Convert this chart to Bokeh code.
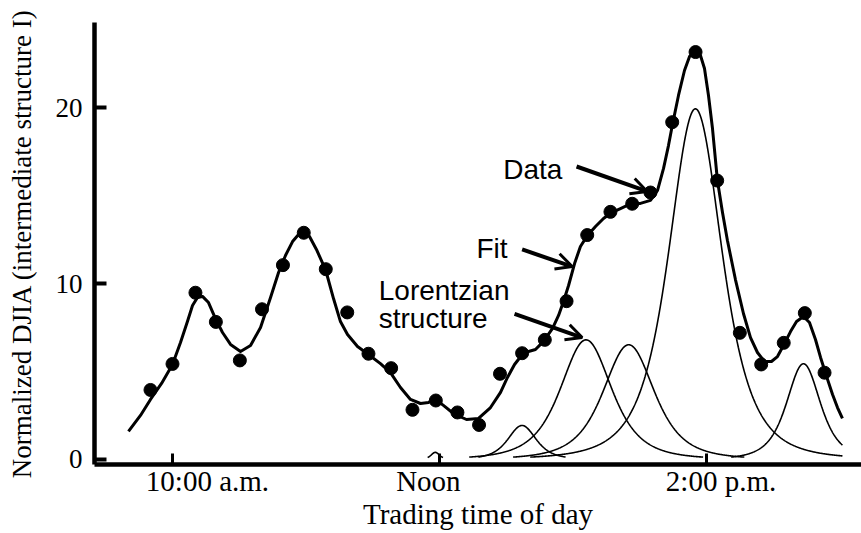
import numpy as np
from bokeh.plotting import figure
from bokeh.models import Range1d, FixedTicker, Label, Arrow, OpenHead, LinearAxis
from bokeh.embed import file_html
from bokeh.resources import INLINE

# ---- data (time of day in hours, normalized DJIA) ----
time_h = [9.835, 10.0, 10.172, 10.325, 10.505, 10.671, 10.828, 10.984, 11.149, 11.31,
          11.469, 11.639, 11.799, 11.974, 12.136, 12.298, 12.455, 12.621, 12.791, 12.954,
          13.109, 13.283, 13.446, 13.583, 13.746, 13.921, 14.083, 14.253, 14.413, 14.582,
          14.74, 14.888]
djia = [3.95, 5.43, 9.48, 7.82, 5.63, 8.54, 11.05, 12.89, 10.82, 8.36,
        6.01, 5.19, 2.82, 3.35, 2.67, 1.96, 4.87, 6.04, 6.80, 9.00,
        12.76, 14.08, 14.54, 15.18, 19.18, 23.17, 15.86, 7.20, 5.40, 6.63,
        8.32, 4.93]

fit_time = [9.670, 9.760, 9.835, 9.918, 10.000, 10.060, 10.112, 10.150, 10.187, 10.225,
            10.270, 10.322, 10.375, 10.435, 10.510, 10.585, 10.660, 10.735, 10.795, 10.847,
            10.900, 10.945, 10.982, 11.027, 11.079, 11.147, 11.207, 11.259, 11.312, 11.387,
            11.469, 11.559, 11.634, 11.709, 11.784, 11.859, 11.919, 11.972, 12.031, 12.106,
            12.204, 12.294, 12.384, 12.459, 12.511, 12.564, 12.616, 12.669, 12.721, 12.781,
            12.849, 12.894, 12.931, 12.969, 13.014, 13.058, 13.111, 13.171, 13.231, 13.291,
            13.358, 13.441, 13.508, 13.583, 13.636, 13.681, 13.718, 13.748, 13.793, 13.838,
            13.876, 13.921, 13.958, 13.988, 14.018, 14.048, 14.085, 14.123, 14.160, 14.220,
            14.280, 14.333, 14.385, 14.438, 14.490, 14.535, 14.580, 14.633, 14.678, 14.730,
            14.775, 14.820, 14.858, 14.903, 14.948, 14.985, 15.022]
fit_value = [1.59, 2.50, 3.41, 4.32, 5.40, 6.65, 7.84, 8.75, 9.21, 9.27,
             8.92, 8.01, 7.22, 6.54, 6.14, 6.48, 7.50, 9.21, 10.63, 11.60,
             12.39, 12.79, 12.91, 12.68, 11.94, 10.80, 9.15, 7.84, 7.10, 6.42,
             5.97, 5.45, 4.94, 4.09, 3.41, 3.18, 3.24, 3.41, 3.07, 2.61,
             2.27, 2.33, 2.95, 3.81, 4.66, 5.40, 5.91, 6.14, 6.25, 6.71,
             7.45, 8.19, 8.98, 9.89, 11.14, 12.11, 12.74, 13.25, 13.70, 14.04,
             14.27, 14.56, 14.56, 14.73, 15.30, 16.55, 17.85, 19.05, 20.70, 22.12,
             22.92, 23.20, 22.97, 22.23, 20.70, 18.82, 15.86, 14.04, 12.45, 10.23,
             8.30, 6.93, 6.08, 5.57, 5.57, 5.85, 6.48, 7.27, 7.84, 8.13,
             7.79, 6.82, 5.80, 4.72, 3.69, 2.95, 2.33]

# Lorentzian structures: centre (h), height, half-width (h)
structure_center = [11.97, 12.62, 13.10, 13.42, 13.92, 14.73]
structure_height = [0.40, 1.93, 6.80, 6.52, 19.94, 5.44]
structure_width = [0.06, 0.195, 0.352, 0.352, 0.367, 0.232]

tick_values = [10, 12, 14]                 # tick marks
tick_labels = ["10:00 a.m.", "Noon", "2:00 p.m."]
tick_label_pos = [10.262, 11.918, 14.112]  # where the labels sit in the original

SERIF = "Liberation Serif"
SANS = "Liberation Sans"

p = figure(width=861, height=533,
           x_range=Range1d(9.4153, 15.165), y_range=Range1d(-0.29, 24.85),
           output_backend="svg", toolbar_location=None,
           min_border_left=94, min_border_right=0, min_border_top=22, min_border_bottom=69)
p.outline_line_color = None
p.grid.visible = False
p.background_fill_color = "white"
p.border_fill_color = "white"

# y axis
ya = p.yaxis[0]
ya.ticker = FixedTicker(ticks=[0, 10, 20])
ya.minor_tick_line_color = None
ya.major_tick_in = 12
ya.major_tick_out = 0
ya.major_tick_line_width = 4
ya.axis_line_width = 4.5
ya.major_label_text_font = SERIF
ya.major_label_text_font_size = "27px"
ya.major_label_text_color = "black"
ya.major_label_standoff = 12
ya.axis_label = "Normalized DJIA (intermediate structure I)"
ya.axis_label_text_font = SERIF
ya.axis_label_text_font_size = "27px"
ya.axis_label_text_font_style = "normal"
ya.axis_label_text_color = "black"
ya.axis_label_standoff = 16

# x axis: tick marks only
xa = p.xaxis[0]
xa.ticker = FixedTicker(ticks=tick_values)
xa.minor_tick_line_color = None
xa.major_tick_in = 11
xa.major_tick_out = 0
xa.major_tick_line_width = 3
xa.axis_line_width = 4.5
xa.major_label_text_font_size = "0px"
xa.major_label_text_color = None
xa.major_label_standoff = 0

# x axis: labels and title
xl = LinearAxis(ticker=FixedTicker(ticks=tick_label_pos),
                major_label_overrides={v: t for v, t in zip(tick_label_pos, tick_labels)},
                axis_line_color=None, major_tick_line_color=None, minor_tick_line_color=None,
                major_tick_in=0, major_tick_out=0, major_label_standoff=0,
                major_label_text_font=SERIF, major_label_text_font_size="29px",
                major_label_text_color="black",
                axis_label="Trading time of day", axis_label_text_font=SERIF,
                axis_label_text_font_size="29px", axis_label_text_font_style="normal",
                axis_label_text_color="black", axis_label_standoff=-2)
p.add_layout(xl, "below")

# Lorentzian structures
grid = np.linspace(9.6, 15.022, 1600)
for c, h, w in zip(structure_center, structure_height, structure_width):
    yv = h / (1.0 + ((grid - c) / w) ** 2) ** 2
    cutoff = min(0.13, 0.25 * h)
    yv = np.where(yv < cutoff, np.nan, yv)
    p.line(grid, yv, line_color="black", line_width=1.6)

# fit
p.line(fit_time, fit_value, line_color="black", line_width=3, line_join="round")

# data points
p.scatter(time_h, djia, size=13, marker="circle", fill_color="black", line_color="black")

# annotations
ann = dict(text_font=SANS, text_font_size="28px", text_color="black",
           text_align="left", text_baseline="alphabetic")
p.add_layout(Label(x=12.479, y=16.47, text="Data", **ann))
p.add_layout(Label(x=12.279, y=11.98, text="Fit", **ann))
p.add_layout(Label(x=11.546, y=9.61, text="Lorentzian", **ann))
p.add_layout(Label(x=11.546, y=8.00, text="structure", **ann))

for xs, ys, xe, ye in [(13.029, 16.66, 13.558, 15.24),
                       (12.621, 11.94, 12.996, 10.97),
                       (12.564, 8.28, 13.071, 6.93)]:
    p.add_layout(Arrow(end=OpenHead(size=16, line_width=3, line_color="black"),
                       x_start=xs, y_start=ys, x_end=xe, y_end=ye,
                       line_width=4, line_color="black"))

open("out.html", "w").write(file_html(p, INLINE))
